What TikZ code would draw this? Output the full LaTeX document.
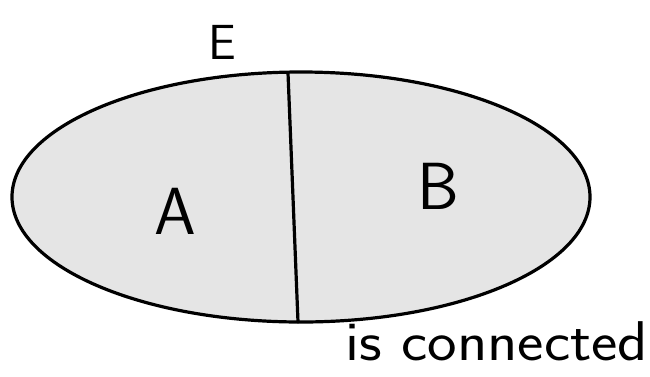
\documentclass[tikz,border=0pt]{standalone}
\usetikzlibrary{shapes.geometric}
\definecolor{regionfill}{HTML}{E5E5E5}

\begin{document}
\begin{tikzpicture}[
  x=0.75pt,
  y=-0.75pt,
  font=\sffamily,
  outline/.style={line width=2.4pt, draw=black, line cap=round},
  region/.style={ellipse, outline, fill=regionfill, inner sep=0pt, minimum width=578*0.75pt, minimum height=250*0.75pt},
  biglabel/.style={font=\sffamily\fontsize{50}{50}\selectfont, inner sep=0pt},
  toplabel/.style={font=\sffamily\fontsize{37}{37}\selectfont, inner sep=0pt}
]
\useasboundingbox (0,0) rectangle (650,376);

\node[region] (set) at (301,197) {};
\coordinate (cuttop) at (288,73);
\coordinate (cutbot) at (298,322);
\draw[outline] (cuttop) -- (cutbot);

\node[biglabel] (parta) at (175,211) {A};
\node[biglabel] (partb) at (438,186) {B};
\node[toplabel] (edges) at (222,42) {E};
\node[toplabel, font=\sffamily\fontsize{42}{42}\selectfont, xscale=1.12, anchor=base west] (claim) at (345,360) {is connected};

\end{tikzpicture}
\end{document}
